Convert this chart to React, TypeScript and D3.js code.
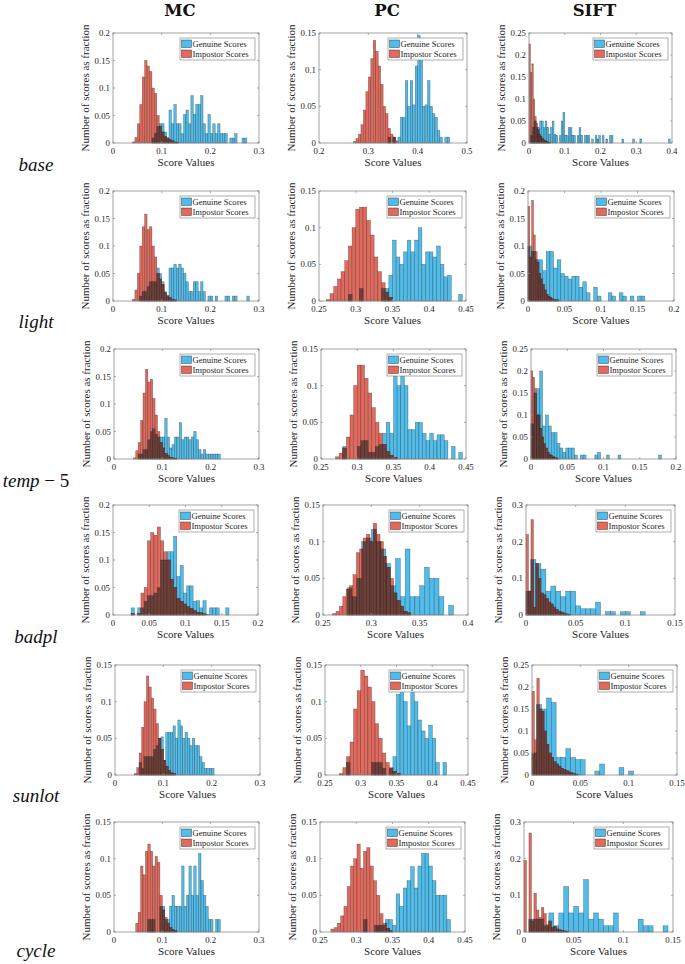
import React from 'react';
import * as d3 from 'd3';

// ---------- labels ----------
const COL_TITLES = ['MC', 'PC', 'SIFT'];
const ROW_LABELS = ['base', 'light', 'temp', 'badpl', 'sunlot', 'cycle'];
const LEGEND = ['Genuine Scores', 'Impostor Scores'];
const X_LABEL = 'Score Values';
const Y_LABEL = 'Number of scores as fraction';

// ---------- tick values ----------
const X_MC = [0, 0.1, 0.2, 0.3];
const X_MC_B = [0, 0.05, 0.1, 0.15, 0.2];
const X_PC_BASE = [0.2, 0.3, 0.4, 0.5];
const X_PC = [0.25, 0.3, 0.35, 0.4, 0.45];
const X_PC_B = [0.25, 0.3, 0.35, 0.4];
const X_SIFT_BASE = [0, 0.1, 0.2, 0.3, 0.4];
const X_SIFT_02 = [0, 0.05, 0.1, 0.15, 0.2];
const X_SIFT_015 = [0, 0.05, 0.1, 0.15];
const Y_020 = [0, 0.05, 0.1, 0.15, 0.2];
const Y_015 = [0, 0.05, 0.1, 0.15];
const Y_025 = [0, 0.05, 0.1, 0.15, 0.2, 0.25];
const Y_030 = [0, 0.1, 0.2, 0.3];

// ---------- histogram data: [binStart, binWidth] + heights (fraction) ----------
// MC
const MC_BASE_GEN_BINS = [0.08, 0.005];
const MC_BASE_GEN = [0.009, 0.017, 0.03, 0.035, 0.035, 0.02, 0.01, 0.06, 0.035, 0.07, 0.035, 0.035, 0.017, 0.052, 0.06, 0.035, 0.086, 0.052, 0.07, 0.07, 0.086, 0.035, 0.017, 0.052, 0.017, 0.035, 0.017, 0.035, 0.017, 0.017, 0.017, 0, 0.009, 0.009, 0.017, 0, 0, 0.009, 0.009];
const MC_BASE_IMP_BINS = [0.04, 0.005];
const MC_BASE_IMP = [0.002, 0.01, 0.035, 0.07, 0.12, 0.15, 0.14, 0.13, 0.1, 0.09, 0.05, 0.03, 0.02, 0.012, 0.008, 0.006, 0.004, 0.002, 0.001];

const MC_LIGHT_GEN_BINS = [0.055, 0.005];
const MC_LIGHT_GEN = [0.009, 0.017, 0.017, 0.026, 0.035, 0.035, 0.035, 0.06, 0.05, 0.035, 0.017, 0.009, 0.06, 0.06, 0.067, 0.06, 0.067, 0.06, 0.05, 0.035, 0.017, 0.017, 0.035, 0.035, 0.017, 0.035, 0.017, 0, 0.009, 0.009, 0, 0.009, 0, 0, 0, 0.009, 0.009, 0, 0.009, 0.009, 0, 0, 0, 0, 0.009];
const MC_LIGHT_IMP_BINS = [0.04, 0.005];
const MC_LIGHT_IMP = [0.003, 0.02, 0.05, 0.1, 0.135, 0.158, 0.13, 0.135, 0.1, 0.08, 0.05, 0.04, 0.03, 0.015, 0.01, 0.006, 0.003, 0.002];

const MC_TEMP_GEN_BINS = [0.05, 0.005];
const MC_TEMP_GEN = [0.009, 0.009, 0.017, 0.017, 0.035, 0.05, 0.055, 0.045, 0.04, 0.04, 0.04, 0.074, 0.04, 0.02, 0.026, 0.04, 0.04, 0.066, 0.035, 0.04, 0.04, 0.035, 0.04, 0.05, 0.035, 0.017, 0.009, 0.017, 0.009, 0.009, 0.009, 0.009, 0.009, 0.009];
const MC_TEMP_IMP_BINS = [0.04, 0.005];
const MC_TEMP_IMP = [0.002, 0.015, 0.03, 0.07, 0.12, 0.163, 0.14, 0.145, 0.11, 0.08, 0.05, 0.03, 0.02, 0.01, 0.006, 0.003, 0.002, 0.001];

const MC_BADPL_GEN_BINS = [0.025, 0.0045];
const MC_BADPL_GEN = [0.013, 0, 0.013, 0.013, 0.025, 0.035, 0.035, 0.04, 0.05, 0.1, 0.1, 0.115, 0.115, 0.143, 0.07, 0.09, 0.04, 0.053, 0.053, 0.025, 0.026, 0.013, 0.026, 0, 0.013, 0.013, 0.013, 0, 0, 0.013];
const MC_BADPL_IMP_BINS = [0.025, 0.0045];
const MC_BADPL_IMP = [0.003, 0, 0.003, 0.04, 0.05, 0.135, 0.15, 0.145, 0.16, 0.135, 0.115, 0.1, 0.065, 0.05, 0.03, 0.025, 0.02, 0.015, 0.012, 0.008, 0.005, 0.004, 0.002, 0.001];

const MC_SUN_GEN_BINS = [0.05, 0.005];
const MC_SUN_GEN = [0.017, 0.009, 0.025, 0.025, 0.025, 0.025, 0.035, 0.04, 0.05, 0.052, 0.02, 0.058, 0.058, 0.058, 0.067, 0.05, 0.075, 0.067, 0.05, 0.058, 0.05, 0.04, 0.05, 0.04, 0.04, 0.025, 0.017, 0.009, 0.009, 0.009, 0.009];
const MC_SUN_IMP_BINS = [0.04, 0.005];
const MC_SUN_IMP = [0.002, 0.01, 0.03, 0.065, 0.1, 0.135, 0.12, 0.105, 0.09, 0.07, 0.05, 0.035, 0.02, 0.012, 0.006, 0.003, 0.002];

const MC_CYC_GEN_BINS = [0.07, 0.005];
const MC_CYC_GEN = [0.017, 0.017, 0.017, 0, 0, 0.035, 0.035, 0.017, 0.017, 0.035, 0.05, 0.035, 0.035, 0.035, 0.09, 0.035, 0.05, 0.09, 0.05, 0.09, 0.05, 0.107, 0.07, 0.05, 0.035, 0.017, 0.017, 0, 0.017, 0.017];
const MC_CYC_IMP_BINS = [0.045, 0.005];
const MC_CYC_IMP = [0.012, 0.027, 0.09, 0.078, 0.11, 0.12, 0.11, 0.09, 0.103, 0.095, 0.05, 0.03, 0.02, 0.012, 0.006, 0.003, 0.002];

// PC
const PC_BASE_GEN_BINS = [0.34, 0.005];
const PC_BASE_GEN = [0.008, 0, 0.008, 0, 0.008, 0.035, 0.035, 0.085, 0.05, 0.085, 0.052, 0.105, 0.147, 0.115, 0.05, 0.052, 0.085, 0.05, 0.04, 0.035, 0.017, 0.008, 0, 0.008, 0.008];
const PC_BASE_IMP_BINS = [0.27, 0.005];
const PC_BASE_IMP = [0.002, 0.006, 0.012, 0.025, 0.045, 0.07, 0.09, 0.115, 0.14, 0.125, 0.105, 0.08, 0.05, 0.04, 0.02, 0.012, 0.008, 0.003];

const PC_LIGHT_GEN_BINS = [0.29, 0.005];
const PC_LIGHT_GEN = [0.009, 0, 0, 0.017, 0, 0, 0, 0, 0, 0.017, 0.017, 0.035, 0.083, 0.06, 0.05, 0.067, 0.083, 0.067, 0.083, 0.1, 0.05, 0.067, 0.067, 0.06, 0.075, 0.05, 0.033, 0.035, 0, 0, 0.009];
const PC_LIGHT_IMP_BINS = [0.26, 0.005];
const PC_LIGHT_IMP = [0.002, 0.01, 0.02, 0.03, 0.04, 0.055, 0.075, 0.1, 0.125, 0.128, 0.128, 0.11, 0.09, 0.06, 0.04, 0.025, 0.012, 0.005];

const PC_TEMP_GEN_BINS = [0.28, 0.005];
const PC_TEMP_GEN = [0.017, 0, 0, 0, 0.017, 0.025, 0.025, 0.009, 0.009, 0.017, 0.02, 0.035, 0.05, 0.035, 0.113, 0.1, 0.113, 0.1, 0.04, 0.04, 0.05, 0.05, 0.035, 0.025, 0.035, 0.025, 0.033, 0.033, 0.025, 0, 0.017, 0, 0.009];
const PC_TEMP_IMP_BINS = [0.27, 0.005];
const PC_TEMP_IMP = [0.003, 0.008, 0.015, 0.03, 0.06, 0.1, 0.128, 0.128, 0.11, 0.09, 0.07, 0.05, 0.035, 0.02, 0.01, 0.005, 0.002];

const PC_BADPL_GEN_BINS = [0.275, 0.005];
const PC_BADPL_GEN = [0.037, 0.025, 0.05, 0.1, 0.105, 0.117, 0.1, 0.09, 0.07, 0.04, 0.077, 0.025, 0.09, 0.025, 0.025, 0.04, 0.065, 0.05, 0.05, 0.025, 0, 0.013];
const PC_BADPL_IMP_BINS = [0.26, 0.0035];
const PC_BADPL_IMP = [0.002, 0.005, 0.012, 0.025, 0.035, 0.04, 0.055, 0.085, 0.09, 0.105, 0.11, 0.1, 0.125, 0.11, 0.1, 0.08, 0.065, 0.05, 0.03, 0.02, 0.012, 0.005, 0.003];

const PC_SUN_GEN_BINS = [0.28, 0.005];
const PC_SUN_GEN = [0.017, 0, 0, 0, 0, 0, 0, 0.017, 0.017, 0.017, 0.009, 0, 0.009, 0.025, 0.11, 0.12, 0.1, 0.067, 0.118, 0.1, 0.075, 0.06, 0.05, 0.068, 0.05, 0.017, 0, 0.017];
const PC_SUN_IMP_BINS = [0.27, 0.005];
const PC_SUN_IMP = [0.002, 0.01, 0.025, 0.045, 0.09, 0.115, 0.143, 0.135, 0.12, 0.1, 0.07, 0.05, 0.03, 0.017, 0.01, 0.005, 0.002];

const PC_CYC_GEN_BINS = [0.31, 0.005];
const PC_CYC_GEN = [0.017, 0, 0, 0.009, 0.009, 0.009, 0.017, 0.017, 0.009, 0.052, 0.035, 0.06, 0.07, 0.089, 0.06, 0.09, 0.107, 0.107, 0.09, 0.07, 0.05, 0.05, 0.05, 0.017];
const PC_CYC_IMP_BINS = [0.265, 0.0045];
const PC_CYC_IMP = [0.004, 0.006, 0.012, 0.022, 0.035, 0.062, 0.09, 0.1, 0.12, 0.087, 0.11, 0.115, 0.09, 0.07, 0.05, 0.025, 0.012, 0.005, 0.002];

// SIFT
const SIFT_BASE_GEN_BINS = [0, 0.005];
const SIFT_BASE_GEN = [0, 0.017, 0.035, 0.05, 0.035, 0.035, 0.05, 0.05, 0.035, 0.05, 0.035, 0.02, 0.035, 0.05, 0.02, 0.017, 0, 0.017, 0.05, 0.07, 0.017, 0.017, 0.035, 0.035, 0.017, 0.017, 0, 0.017, 0.035, 0.017, 0, 0.017, 0.017, 0.017, 0, 0.009, 0, 0.017, 0.009, 0.017, 0, 0.017, 0, 0.009, 0, 0.017, 0.017, 0, 0, 0, 0, 0, 0.009, 0, 0, 0, 0, 0, 0.009, 0, 0, 0, 0.009, 0, 0, 0, 0, 0, 0, 0, 0, 0, 0, 0, 0, 0, 0, 0, 0.009];
const SIFT_BASE_IMP_BINS = [0, 0.004];
const SIFT_BASE_IMP = [0.225, 0.16, 0.18, 0.1, 0.06, 0.045, 0.03, 0.02, 0.015, 0.01, 0.007, 0.005, 0.003, 0.002, 0.001];

const SIFT_LIGHT_GEN_BINS = [0, 0.005];
const SIFT_LIGHT_GEN = [0.1, 0.09, 0.075, 0.075, 0.055, 0.09, 0.09, 0.06, 0.075, 0.05, 0.045, 0.04, 0.045, 0.045, 0.025, 0.035, 0.015, 0, 0.025, 0.009, 0, 0, 0.015, 0.009, 0, 0.015, 0.009, 0, 0.009, 0, 0.009, 0.009];
const SIFT_LIGHT_IMP_BINS = [0, 0.0025];
const SIFT_LIGHT_IMP = [0.172, 0.08, 0.183, 0.12, 0.09, 0.07, 0.05, 0.04, 0.03, 0.02, 0.012, 0.008, 0.006, 0.004, 0.003, 0.002, 0.002];

const SIFT_TEMP_GEN_BINS = [0, 0.004];
const SIFT_TEMP_GEN = [0.08, 0.15, 0.16, 0.2, 0.075, 0.1, 0.075, 0.06, 0.06, 0.035, 0.025, 0.015, 0.025, 0.025, 0.025, 0.009, 0, 0.009, 0.009, 0, 0, 0, 0.009, 0.015, 0, 0, 0.009, 0, 0, 0, 0.009, 0, 0, 0, 0, 0, 0, 0, 0, 0, 0, 0, 0, 0, 0.009];
const SIFT_TEMP_IMP_BINS = [0, 0.0025];
const SIFT_TEMP_IMP = [0.2, 0.185, 0.16, 0.1, 0.1, 0.07, 0.05, 0.035, 0.025, 0.015, 0.01, 0.008, 0.005, 0.003, 0.002];

const SIFT_BADPL_GEN_BINS = [0, 0.005];
const SIFT_BADPL_GEN = [0.065, 0.151, 0.14, 0.125, 0.065, 0.079, 0.065, 0.05, 0.065, 0.065, 0.025, 0.017, 0.017, 0.017, 0.035, 0, 0.009, 0.009, 0, 0.009, 0.009, 0, 0, 0.009];
const SIFT_BADPL_IMP_BINS = [0, 0.0025];
const SIFT_BADPL_IMP = [0.22, 0.065, 0.26, 0.02, 0.14, 0.1, 0.06, 0.055, 0.045, 0.035, 0.03, 0.02, 0.015, 0.01, 0.008, 0.005, 0.003, 0.002];

const SIFT_SUN_GEN_BINS = [0, 0.005];
const SIFT_SUN_GEN = [0.05, 0.16, 0.15, 0.175, 0.165, 0.04, 0.04, 0.06, 0.04, 0.035, 0.035, 0, 0, 0.009, 0.025, 0, 0, 0, 0.017, 0, 0.009];
const SIFT_SUN_IMP_BINS = [0, 0.0025];
const SIFT_SUN_IMP = [0.19, 0.08, 0.22, 0.15, 0.145, 0.1, 0.07, 0.05, 0.04, 0.03, 0.025, 0.02, 0.015, 0.012, 0.01, 0.007, 0.005, 0.003, 0.002];

const SIFT_CYC_GEN_BINS = [0, 0.005];
const SIFT_CYC_GEN = [0, 0.035, 0.035, 0.035, 0.017, 0.052, 0.017, 0.052, 0.124, 0.052, 0.07, 0.052, 0.143, 0.035, 0.052, 0.035, 0.017, 0.017, 0.052, 0, 0, 0, 0, 0.035, 0.017, 0.017, 0, 0, 0.017];
const SIFT_CYC_IMP_BINS = [0, 0.0025];
const SIFT_CYC_IMP = [0.195, 0, 0.27, 0.03, 0.106, 0.06, 0.04, 0.067, 0.05, 0.02, 0.03, 0.012, 0.015, 0.008, 0.006, 0.004, 0.003, 0.002];

// ---------- panel table built from the arrays ----------
type Hist = { bins: number[]; h: number[] };
type PanelDef = { xd: number[]; xt: number[]; yd: number[]; yt: number[]; gen: Hist; imp: Hist };
const dom = (t: number[]) => [t[0], t[t.length - 1]];
const mk = (xt: number[], yt: number[], gb: number[], g: number[], ib: number[], i: number[]): PanelDef => ({
  xd: dom(xt), xt, yd: dom(yt), yt, gen: { bins: gb, h: g }, imp: { bins: ib, h: i },
});
const PANELS: PanelDef[][] = [
  [mk(X_MC, Y_020, MC_BASE_GEN_BINS, MC_BASE_GEN, MC_BASE_IMP_BINS, MC_BASE_IMP),
   mk(X_PC_BASE, Y_015, PC_BASE_GEN_BINS, PC_BASE_GEN, PC_BASE_IMP_BINS, PC_BASE_IMP),
   mk(X_SIFT_BASE, Y_025, SIFT_BASE_GEN_BINS, SIFT_BASE_GEN, SIFT_BASE_IMP_BINS, SIFT_BASE_IMP)],
  [mk(X_MC, Y_020, MC_LIGHT_GEN_BINS, MC_LIGHT_GEN, MC_LIGHT_IMP_BINS, MC_LIGHT_IMP),
   mk(X_PC, Y_015, PC_LIGHT_GEN_BINS, PC_LIGHT_GEN, PC_LIGHT_IMP_BINS, PC_LIGHT_IMP),
   mk(X_SIFT_02, Y_020, SIFT_LIGHT_GEN_BINS, SIFT_LIGHT_GEN, SIFT_LIGHT_IMP_BINS, SIFT_LIGHT_IMP)],
  [mk(X_MC, Y_020, MC_TEMP_GEN_BINS, MC_TEMP_GEN, MC_TEMP_IMP_BINS, MC_TEMP_IMP),
   mk(X_PC, Y_015, PC_TEMP_GEN_BINS, PC_TEMP_GEN, PC_TEMP_IMP_BINS, PC_TEMP_IMP),
   mk(X_SIFT_02, Y_025, SIFT_TEMP_GEN_BINS, SIFT_TEMP_GEN, SIFT_TEMP_IMP_BINS, SIFT_TEMP_IMP)],
  [mk(X_MC_B, Y_020, MC_BADPL_GEN_BINS, MC_BADPL_GEN, MC_BADPL_IMP_BINS, MC_BADPL_IMP),
   mk(X_PC_B, Y_015, PC_BADPL_GEN_BINS, PC_BADPL_GEN, PC_BADPL_IMP_BINS, PC_BADPL_IMP),
   mk(X_SIFT_015, Y_030, SIFT_BADPL_GEN_BINS, SIFT_BADPL_GEN, SIFT_BADPL_IMP_BINS, SIFT_BADPL_IMP)],
  [mk(X_MC, Y_015, MC_SUN_GEN_BINS, MC_SUN_GEN, MC_SUN_IMP_BINS, MC_SUN_IMP),
   mk(X_PC, Y_015, PC_SUN_GEN_BINS, PC_SUN_GEN, PC_SUN_IMP_BINS, PC_SUN_IMP),
   mk(X_SIFT_015, Y_025, SIFT_SUN_GEN_BINS, SIFT_SUN_GEN, SIFT_SUN_IMP_BINS, SIFT_SUN_IMP)],
  [mk(X_MC, Y_015, MC_CYC_GEN_BINS, MC_CYC_GEN, MC_CYC_IMP_BINS, MC_CYC_IMP),
   mk(X_PC, Y_015, PC_CYC_GEN_BINS, PC_CYC_GEN, PC_CYC_IMP_BINS, PC_CYC_IMP),
   mk(X_SIFT_015, Y_030, SIFT_CYC_GEN_BINS, SIFT_CYC_GEN, SIFT_CYC_IMP_BINS, SIFT_CYC_IMP)],
];

// ---------- layout ----------
const W = 685, H = 964;
const ROW_TOP = [33, 191, 349, 505, 665, 822];
const PANEL_H = 110;
const PANEL_LEFT = [[113, 319, 529], [113, 319, 528], [114, 321, 531], [113, 323, 526], [115, 325, 532], [114, 320, 524]];
const PANEL_RIGHT = [[259, 467, 672], [259, 466, 674], [259, 466, 676], [258, 468, 675], [260, 468, 677], [259, 465, 673]];
const ROW_LABEL_Y = [171, 328, 487, 643, 802, 957];

const SERIF = '"Liberation Serif", "Times New Roman", serif';
const BLUE = '#4fbdec';
const RED = '#e2695b';
const DARK = '#6f3f39';
const AXIS = '#8c8c8c';
const TXT = '#262626';
const fmt = (v: number) => String(+v.toFixed(4));

type Bar = { x0: number; x1: number; v: number };
const toBars = (hs: Hist): Bar[] =>
  hs.h.map((v, i) => ({ x0: hs.bins[0] + i * hs.bins[1], x1: hs.bins[0] + (i + 1) * hs.bins[1], v })).filter((b) => b.v > 0);

function Panel({ r, c }: { r: number; c: number }) {
  const p = PANELS[r][c];
  const left = PANEL_LEFT[r][c], right = PANEL_RIGHT[r][c];
  const top = ROW_TOP[r], bottom = top + PANEL_H;
  const x = d3.scaleLinear().domain(p.xd).range([left, right]);
  const y = d3.scaleLinear().domain(p.yd).range([bottom, top]);
  const gen = toBars(p.gen);
  const imp = toBars(p.imp);
  const over: Bar[] = [];
  imp.forEach((a) => gen.forEach((b) => {
    const lo = Math.max(a.x0, b.x0), hi = Math.min(a.x1, b.x1);
    if (hi > lo + 1e-9) over.push({ x0: lo, x1: hi, v: Math.min(a.v, b.v) });
  }));
  const rect = (b: Bar, fill: string, key: string, stroke = true) => (
    <rect key={key} x={x(b.x0)} y={y(b.v)} width={Math.max(0, x(b.x1) - x(b.x0))} height={y(0) - y(b.v)}
      fill={fill} stroke={stroke ? '#222' : 'none'} strokeOpacity={0.55} strokeWidth={0.5} />
  );
  const tl = 2;
  const lw = 75, lh = 22;
  const lx = right - 4 - lw, ly = top + 5;
  const cy = (top + bottom) / 2;
  return (
    <g>
      {gen.map((b, i) => rect(b, BLUE, 'g' + i))}
      {imp.map((b, i) => rect(b, RED, 'i' + i))}
      {over.map((b, i) => rect(b, DARK, 'o' + i))}
      <rect x={left} y={top} width={right - left} height={bottom - top} fill="none" stroke={AXIS} strokeWidth={0.8} />
      {p.xt.map((t, i) => (
        <g key={'xt' + i}>
          <line x1={x(t)} x2={x(t)} y1={bottom} y2={bottom - tl} stroke={AXIS} strokeWidth={0.7} />
          <line x1={x(t)} x2={x(t)} y1={top} y2={top + tl} stroke={AXIS} strokeWidth={0.7} />
          <text x={x(t)} y={bottom + 10.5} textAnchor="middle" fontSize={8.8} fill={TXT} fontFamily={SERIF}>{fmt(t)}</text>
        </g>
      ))}
      {p.yt.map((t, i) => (
        <g key={'yt' + i}>
          <line x1={left} x2={left + tl} y1={y(t)} y2={y(t)} stroke={AXIS} strokeWidth={0.7} />
          <line x1={right} x2={right - tl} y1={y(t)} y2={y(t)} stroke={AXIS} strokeWidth={0.7} />
          <text x={left - 3} y={y(t) + 3} textAnchor="end" fontSize={8.8} fill={TXT} fontFamily={SERIF}>{fmt(t)}</text>
        </g>
      ))}
      <text x={(left + right) / 2} y={bottom + 23} textAnchor="middle" fontSize={11} fill={TXT} fontFamily={SERIF}>{X_LABEL}</text>
      <text transform={`translate(${left - 24},${cy}) rotate(-90)`} textAnchor="middle" fontSize={11} fill={TXT} fontFamily={SERIF}>{Y_LABEL}</text>
      <rect x={lx} y={ly} width={lw} height={lh} fill="#fff" stroke={AXIS} strokeWidth={0.7} />
      {LEGEND.map((s, i) => (
        <g key={'lg' + i}>
          <rect x={lx + 1.5} y={ly + 2 + i * 10} width={10} height={7.5} fill={i === 0 ? BLUE : RED} stroke="#222" strokeOpacity={0.7} strokeWidth={0.6} />
          <text x={lx + 12.5} y={ly + 8.8 + i * 10} fontSize={8.6} fill={TXT} fontFamily={SERIF}>{s}</text>
        </g>
      ))}
    </g>
  );
}

export default function App() {
  return (
    <svg width={W} height={H} viewBox={`0 0 ${W} ${H}`} style={{ position: 'absolute', left: 0, top: 0, background: '#fff' }}>
      <rect x={0} y={0} width={W} height={H} fill="#fff" />
      {COL_TITLES.map((t, c) => (
        <text key={t} x={(PANEL_LEFT[0][c] + PANEL_RIGHT[0][c]) / 2 - 6} y={16} textAnchor="middle" fontSize={16.5}
          fontWeight="bold" fontFamily='"DejaVu Serif", serif' fill="#111">{t}</text>
      ))}
      {ROW_LABELS.map((t, r) => (
        <text key={t} x={36} y={ROW_LABEL_Y[r]} textAnchor="middle" fontSize={19} fontFamily={SERIF} fill="#111">
          <tspan fontStyle="italic">{t}</tspan>
          {t === 'temp' ? <tspan> − 5</tspan> : null}
        </text>
      ))}
      {PANELS.map((row, r) => row.map((_, c) => <Panel key={r + '-' + c} r={r} c={c} />))}
    </svg>
  );
}
